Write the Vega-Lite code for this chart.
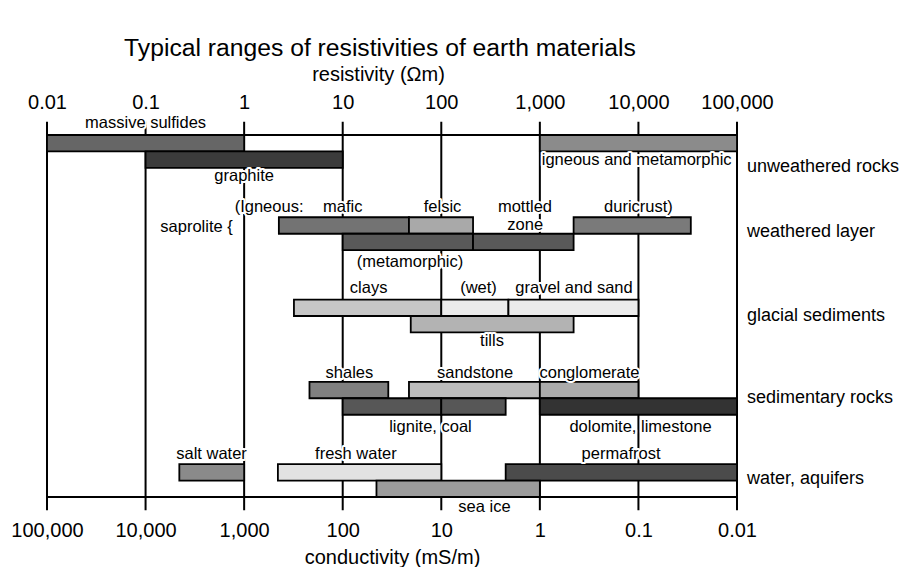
{
  "$schema": "https://vega.github.io/schema/vega-lite/v6.json",
  "width": 690,
  "height": 362,
  "autosize": "none",
  "padding": {"left": 47, "top": 135, "right": 162, "bottom": 70},
  "config": {"view": {"stroke": null}, "font": "Liberation Sans"},
  "title": {"text": "Typical ranges of resistivities of earth materials", "fontSize": 24.7, "fontWeight": "normal", "font": "Liberation Sans", "color": "black", "anchor": "middle", "dx": -12, "offset": 3},
  "datasets": {
    "decades": [{"r": 0.01}, {"r": 0.1}, {"r": 1}, {"r": 10}, {"r": 100}, {"r": 1000}, {"r": 10000}, {"r": 100000}],
    "frame": [{"edge": "top", "y": 0}, {"edge": "bottom", "y": 22}],
    "bars": [
      {"name": "massive sulfides", "lo": 0.01, "hi": 1, "y0": 0, "y1": 1},
      {"name": "graphite", "lo": 0.1, "hi": 10, "y0": 1, "y1": 2},
      {"name": "igneous and metamorphic", "lo": 1000, "hi": 100000, "y0": 0, "y1": 1},
      {"name": "mafic", "lo": 2.25, "hi": 47, "y0": 5, "y1": 6},
      {"name": "felsic", "lo": 47, "hi": 210, "y0": 5, "y1": 6},
      {"name": "duricrust", "lo": 2200, "hi": 34000, "y0": 5, "y1": 6},
      {"name": "metamorphic", "lo": 10, "hi": 210, "y0": 6, "y1": 7},
      {"name": "mottled zone", "lo": 210, "hi": 2200, "y0": 6, "y1": 7},
      {"name": "clays", "lo": 3.2, "hi": 100, "y0": 10, "y1": 11},
      {"name": "wet", "lo": 100, "hi": 480, "y0": 10, "y1": 11},
      {"name": "gravel and sand", "lo": 480, "hi": 10000, "y0": 10, "y1": 11},
      {"name": "tills", "lo": 49, "hi": 2200, "y0": 11, "y1": 12},
      {"name": "shales", "lo": 4.6, "hi": 29, "y0": 15, "y1": 16},
      {"name": "sandstone", "lo": 47, "hi": 1000, "y0": 15, "y1": 16},
      {"name": "conglomerate", "lo": 1000, "hi": 10000, "y0": 15, "y1": 16},
      {"name": "lignite", "lo": 10, "hi": 100, "y0": 16, "y1": 17},
      {"name": "coal", "lo": 100, "hi": 450, "y0": 16, "y1": 17},
      {"name": "dolomite, limestone", "lo": 1000, "hi": 100000, "y0": 16, "y1": 17},
      {"name": "salt water", "lo": 0.22, "hi": 1, "y0": 20, "y1": 21},
      {"name": "fresh water", "lo": 2.2, "hi": 100, "y0": 20, "y1": 21},
      {"name": "permafrost", "lo": 450, "hi": 100000, "y0": 20, "y1": 21},
      {"name": "sea ice", "lo": 22, "hi": 1000, "y0": 21, "y1": 22}
    ],
    "labels": [
      {"text": "massive sulfides", "x": 0.1, "y": -0.42},
      {"text": "graphite", "x": 1, "y": 2.79},
      {"text": "igneous and metamorphic", "x": 9600, "y": 1.82},
      {"text": "(Igneous:", "x": 1.79, "y": 4.68},
      {"text": "mafic", "x": 10, "y": 4.68},
      {"text": "felsic", "x": 103, "y": 4.68},
      {"text": "mottled", "x": 706, "y": 4.7},
      {"text": "zone", "x": 710, "y": 5.8},
      {"text": "duricrust)", "x": 10000, "y": 4.68},
      {"text": "saprolite {", "x": 0.329, "y": 5.88},
      {"text": "(metamorphic)", "x": 48.2, "y": 8.0},
      {"text": "clays", "x": 18.3, "y": 9.6},
      {"text": "(wet)", "x": 238.6, "y": 9.6},
      {"text": "gravel and sand", "x": 2220, "y": 9.6},
      {"text": "tills", "x": 327, "y": 12.83},
      {"text": "shales", "x": 11.7, "y": 14.79},
      {"text": "sandstone", "x": 220, "y": 14.79},
      {"text": "conglomerate", "x": 3189, "y": 14.79},
      {"text": "lignite, coal", "x": 77.7, "y": 18.04},
      {"text": "dolomite, limestone", "x": 10500, "y": 18.04},
      {"text": "salt water", "x": 0.467, "y": 19.7},
      {"text": "fresh water", "x": 13.6, "y": 19.7},
      {"text": "permafrost", "x": 6660, "y": 19.7},
      {"text": "sea ice", "x": 274, "y": 22.93}
    ],
    "groups": [
      {"group": "unweathered rocks", "y": 2.22},
      {"group": "weathered layer", "y": 6.2},
      {"group": "glacial sediments", "y": 11.31},
      {"group": "sedimentary rocks", "y": 16.28},
      {"group": "water, aquifers", "y": 21.2}
    ]
  },
  "layer": [
    {
      "data": {"name": "decades"},
      "mark": {"type": "rule", "color": "black", "strokeWidth": 2},
      "encoding": {
        "x": {
          "field": "r", "type": "quantitative",
          "scale": {"type": "log", "domain": [0.01, 100000], "nice": false},
          "axis": {
            "orient": "top", "values": [0.01, 0.1, 1, 10, 100, 1000, 10000, 100000],
            "format": ",.6~g", "ticks": false, "domain": false, "grid": false,
            "labelFontSize": 20, "labelFont": "Liberation Sans", "labelColor": "black", "labelPadding": 23,
            "labelFlush": false, "labelOverlap": false,
            "title": "resistivity (Ωm)", "titleFontSize": 20, "titleFont": "Liberation Sans", "titleFontWeight": "normal", "titleColor": "black", "titlePadding": 8, "titleX": 331
          }
        },
        "y": {"datum": -0.8, "type": "quantitative", "scale": {"domain": [0, 22], "reverse": true, "nice": false, "zero": false}, "axis": null},
        "y2": {"datum": 22.8}
      }
    },
    {
      "data": {"name": "frame"},
      "mark": {"type": "rule", "color": "black", "strokeWidth": 2},
      "encoding": {
        "x": {
          "datum": 0.01, "type": "quantitative",
          "axis": {
            "orient": "bottom", "values": [0.01, 0.1, 1, 10, 100, 1000, 10000, 100000],
            "labelExpr": "format(1000 / datum.value, ',.6~g')", "ticks": false, "domain": false, "grid": false,
            "labelFontSize": 20, "labelFont": "Liberation Sans", "labelColor": "black", "labelPadding": 23,
            "labelFlush": false, "labelOverlap": false,
            "title": "conductivity (mS/m)", "titleFontSize": 20, "titleFont": "Liberation Sans", "titleFontWeight": "normal", "titleColor": "black", "titlePadding": 7
          }
        },
        "x2": {"datum": 100000},
        "y": {"field": "y", "type": "quantitative", "axis": null}
      }
    },
    {
      "data": {"name": "bars"},
      "mark": {"type": "rect", "stroke": "black", "strokeWidth": 1.8},
      "encoding": {
        "x": {"field": "lo", "type": "quantitative", "axis": null},
        "x2": {"field": "hi"},
        "y": {"field": "y0", "type": "quantitative", "axis": null},
        "y2": {"field": "y1"},
        "color": {
          "field": "name", "type": "nominal", "legend": null,
          "scale": {
            "domain": ["massive sulfides", "graphite", "igneous and metamorphic", "mafic", "felsic", "duricrust", "metamorphic", "mottled zone", "clays", "wet", "gravel and sand", "tills", "shales", "sandstone", "conglomerate", "lignite", "coal", "dolomite, limestone", "salt water", "fresh water", "permafrost", "sea ice"],
            "range": ["#666666", "#3b3b3b", "#8b8b8b", "#737373", "#a9a9a9", "#7a7a7a", "#595959", "#595959", "#c6c6c6", "#ebebeb", "#ebebeb", "#b3b3b3", "#808080", "#bdbdbd", "#ababab", "#575757", "#575757", "#333333", "#8a8a8a", "#e2e2e2", "#4b4b4b", "#9b9b9b"]
          }
        }
      }
    },
    {
      "data": {"name": "labels"},
      "mark": {"type": "text", "font": "Liberation Sans", "fontSize": 16.5, "align": "center", "baseline": "alphabetic", "fill": "white", "stroke": "white", "strokeWidth": 4, "strokeJoin": "round"},
      "encoding": {
        "x": {"field": "x", "type": "quantitative", "axis": null},
        "y": {"field": "y", "type": "quantitative", "axis": null},
        "text": {"field": "text"}
      }
    },
    {
      "data": {"name": "labels"},
      "mark": {"type": "text", "font": "Liberation Sans", "fontSize": 16.5, "align": "center", "baseline": "alphabetic", "color": "black"},
      "encoding": {
        "x": {"field": "x", "type": "quantitative", "axis": null},
        "y": {"field": "y", "type": "quantitative", "axis": null},
        "text": {"field": "text"}
      }
    },
    {
      "data": {"name": "groups"},
      "mark": {"type": "text", "font": "Liberation Sans", "fontSize": 18, "align": "left", "baseline": "alphabetic", "dx": 10, "color": "black"},
      "encoding": {
        "x": {"datum": 100000, "type": "quantitative", "axis": null},
        "y": {"field": "y", "type": "quantitative", "axis": null},
        "text": {"field": "group"}
      }
    }
  ],
  "resolve": {"axis": {"x": "independent"}}
}
